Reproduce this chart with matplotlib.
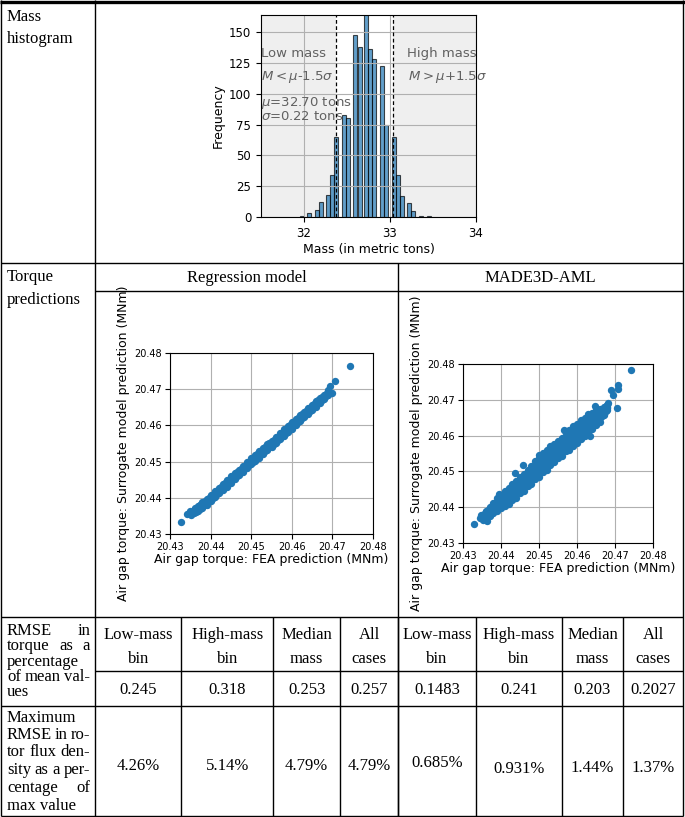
import matplotlib.pyplot as plt

W, H = 685, 817

# mass histogram: left edge of each bar (tons) and its count
mass_left = [31.953, 32.035, 32.128, 32.175, 32.256, 32.302, 32.349, 32.438, 32.488,
             32.574, 32.624, 32.698, 32.748, 32.795, 32.884, 32.934, 33.023, 33.070,
             33.116, 33.194, 33.240, 33.335, 33.430]
mass_count = [1, 3, 6, 12, 18, 34, 65, 83, 80, 148, 138, 168, 136, 128, 123, 75, 65, 34,
              17, 11, 5, 1, 1]
mass_mu = 32.70
mass_sigma = 0.22

# regression model: FEA torque vs surrogate torque (MNm)
reg_x = [20.436, 20.437, 20.438, 20.439, 20.440, 20.441, 20.442, 20.443, 20.444, 20.445,
         20.446, 20.447, 20.448, 20.449, 20.450, 20.451, 20.452, 20.453, 20.454, 20.455,
         20.456, 20.457, 20.458, 20.459, 20.460, 20.461, 20.462, 20.463, 20.464, 20.465,
         20.466, 20.467, 20.468, 20.469]
reg_lo = [20.4357, 20.4364, 20.4373, 20.4381, 20.4391, 20.4401, 20.4412, 20.4421, 20.4431,
          20.4442, 20.4451, 20.4462, 20.4471, 20.4482, 20.4492, 20.4502, 20.4511, 20.4522,
          20.4531, 20.4541, 20.4551, 20.4562, 20.4571, 20.4581, 20.4591, 20.4602, 20.4611,
          20.4622, 20.4632, 20.4642, 20.4652, 20.4663, 20.4673, 20.4684]
reg_mid = [20.4362, 20.4371, 20.4381, 20.4390, 20.4400, 20.4410, 20.4420, 20.4430, 20.4440,
           20.4450, 20.4460, 20.4470, 20.4480, 20.4490, 20.4501, 20.4510, 20.4520, 20.4530,
           20.4540, 20.4550, 20.4560, 20.4570, 20.4580, 20.4590, 20.4600, 20.4610, 20.4620,
           20.4630, 20.4640, 20.4650, 20.4660, 20.4670, 20.4679, 20.4689]
reg_hi = [20.4367, 20.4378, 20.4388, 20.4398, 20.4408, 20.4419, 20.4428, 20.4439, 20.4448,
          20.4459, 20.4469, 20.4478, 20.4489, 20.4498, 20.4510, 20.4518, 20.4529, 20.4538,
          20.4549, 20.4558, 20.4569, 20.4578, 20.4589, 20.4598, 20.4609, 20.4618, 20.4628,
          20.4638, 20.4648, 20.4657, 20.4667, 20.4676, 20.4685, 20.4694]
# points lying between the columns above
reg_xh = [20.4365, 20.4375, 20.4385, 20.4395, 20.4405, 20.4415, 20.4425, 20.4435, 20.4445,
          20.4455, 20.4465, 20.4475, 20.4485, 20.4495, 20.4505, 20.4515, 20.4525, 20.4535,
          20.4545, 20.4555, 20.4565, 20.4575, 20.4585, 20.4595, 20.4605, 20.4615, 20.4625,
          20.4635, 20.4645, 20.4655, 20.4665, 20.4675, 20.4685]
reg_q1 = [20.4362, 20.4370, 20.4380, 20.4391, 20.4400, 20.4410, 20.4421, 20.4430, 20.4440,
          20.4451, 20.4460, 20.4470, 20.4481, 20.4490, 20.4500, 20.4511, 20.4520, 20.4530,
          20.4541, 20.4550, 20.4560, 20.4571, 20.4580, 20.4590, 20.4601, 20.4610, 20.4620,
          20.4631, 20.4640, 20.4650, 20.4661, 20.4670, 20.4680]
reg_q3 = [20.4370, 20.4381, 20.4391, 20.4400, 20.4409, 20.4420, 20.4431, 20.4440, 20.4449,
          20.4460, 20.4471, 20.4480, 20.4489, 20.4500, 20.4511, 20.4520, 20.4529, 20.4540,
          20.4551, 20.4560, 20.4569, 20.4580, 20.4591, 20.4600, 20.4609, 20.4620, 20.4631,
          20.4640, 20.4649, 20.4660, 20.4669, 20.4678, 20.4687]
reg_ex_x = [20.4327, 20.4343, 20.4349, 20.4352, 20.4361, 20.4374, 20.4382, 20.4689, 20.4693,
            20.4698, 20.4706, 20.4743]
reg_ex_y = [20.4332, 20.4355, 20.4363, 20.4353, 20.4372, 20.4381, 20.4384, 20.4699, 20.4710,
            20.4690, 20.4724, 20.4765]

# MADE3D-AML: same quantities, wider band
made_x = [20.436, 20.437, 20.438, 20.439, 20.440, 20.441, 20.442, 20.443, 20.444, 20.445,
          20.446, 20.447, 20.448, 20.449, 20.450, 20.451, 20.452, 20.453, 20.454, 20.455,
          20.456, 20.457, 20.458, 20.459, 20.460, 20.461, 20.462, 20.463, 20.464, 20.465,
          20.466, 20.467, 20.468]
made_y1 = [20.4371, 20.4375, 20.4384, 20.4388, 20.4398, 20.4404, 20.4410, 20.4421, 20.4427,
           20.4440, 20.4446, 20.4459, 20.4465, 20.4478, 20.4484, 20.4497, 20.4503, 20.4518,
           20.4525, 20.4538, 20.4543, 20.4556, 20.4560, 20.4572, 20.4578, 20.4591, 20.4598,
           20.4611, 20.4618, 20.4631, 20.4639, 20.4657, 20.4672]
made_y2 = [20.4376, 20.4381, 20.4391, 20.4397, 20.4407, 20.4413, 20.4423, 20.4430, 20.4441,
           20.4449, 20.4460, 20.4468, 20.4480, 20.4488, 20.4500, 20.4508, 20.4520, 20.4529,
           20.4540, 20.4548, 20.4558, 20.4566, 20.4576, 20.4583, 20.4594, 20.4602, 20.4613,
           20.4621, 20.4632, 20.4639, 20.4650, 20.4661, 20.4677]
made_y3 = [20.4380, 20.4388, 20.4398, 20.4407, 20.4416, 20.4424, 20.4433, 20.4442, 20.4451,
           20.4461, 20.4471, 20.4481, 20.4491, 20.4502, 20.4512, 20.4523, 20.4533, 20.4543,
           20.4552, 20.4561, 20.4570, 20.4580, 20.4589, 20.4598, 20.4607, 20.4616, 20.4625,
           20.4634, 20.4642, 20.4650, 20.4658, 20.4668, 20.4680]
made_y4 = [20.4386, 20.4393, 20.4407, 20.4415, 20.4427, 20.4433, 20.4445, 20.4452, 20.4463,
           20.4471, 20.4483, 20.4491, 20.4504, 20.4513, 20.4526, 20.4535, 20.4548, 20.4555,
           20.4565, 20.4572, 20.4583, 20.4592, 20.4603, 20.4611, 20.4621, 20.4628, 20.4638,
           20.4645, 20.4654, 20.4659, 20.4668, 20.4673, 20.4685]
made_y5 = [20.4389, 20.4401, 20.4412, 20.4425, 20.4434, 20.4446, 20.4453, 20.4465, 20.4472,
           20.4484, 20.4493, 20.4505, 20.4514, 20.4528, 20.4537, 20.4551, 20.4560, 20.4570,
           20.4576, 20.4586, 20.4594, 20.4607, 20.4615, 20.4627, 20.4633, 20.4643, 20.4649,
           20.4659, 20.4663, 20.4671, 20.4675, 20.4681, 20.4686]
# points lying between the columns above
made_xh = [20.4365, 20.4375, 20.4385, 20.4395, 20.4405, 20.4415, 20.4425, 20.4435, 20.4445,
           20.4455, 20.4465, 20.4475, 20.4485, 20.4495, 20.4505, 20.4515, 20.4525, 20.4535,
           20.4545, 20.4555, 20.4565, 20.4575, 20.4585, 20.4595, 20.4605, 20.4615, 20.4625,
           20.4635, 20.4645, 20.4655, 20.4665, 20.4675]
made_h1 = [20.4377, 20.4385, 20.4392, 20.4400, 20.4408, 20.4415, 20.4424, 20.4433, 20.4443,
           20.4452, 20.4462, 20.4472, 20.4481, 20.4492, 20.4502, 20.4511, 20.4522, 20.4532,
           20.4541, 20.4550, 20.4560, 20.4568, 20.4576, 20.4585, 20.4595, 20.4605, 20.4614,
           20.4624, 20.4633, 20.4643, 20.4654, 20.4668]
made_h2 = [20.4384, 20.4393, 20.4402, 20.4411, 20.4420, 20.4428, 20.4437, 20.4446, 20.4456,
           20.4466, 20.4476, 20.4486, 20.4496, 20.4507, 20.4518, 20.4528, 20.4538, 20.4547,
           20.4556, 20.4565, 20.4575, 20.4584, 20.4593, 20.4602, 20.4611, 20.4620, 20.4629,
           20.4638, 20.4646, 20.4654, 20.4663, 20.4674]
made_h3 = [20.4391, 20.4401, 20.4412, 20.4422, 20.4432, 20.4441, 20.4450, 20.4459, 20.4469,
           20.4480, 20.4490, 20.4500, 20.4511, 20.4522, 20.4534, 20.4545, 20.4554, 20.4562,
           20.4571, 20.4580, 20.4590, 20.4600, 20.4610, 20.4619, 20.4627, 20.4635, 20.4644,
           20.4652, 20.4659, 20.4665, 20.4672, 20.4680]
made_ex_x = [20.4328, 20.4344, 20.4348, 20.4353, 20.4357, 20.4363, 20.4396, 20.4436, 20.4458,
             20.4500, 20.4565, 20.4633, 20.4647, 20.4682, 20.4690, 20.4695, 20.4704, 20.4708,
             20.4708, 20.4743]
made_ex_y = [20.4354, 20.4370, 20.4379, 20.4365, 20.4384, 20.4361, 20.4437, 20.4496, 20.4517,
             20.4547, 20.4615, 20.4598, 20.4682, 20.4691, 20.4726, 20.4714, 20.4677, 20.4742,
             20.4730, 20.4782]

torque_ticks = [20.43, 20.44, 20.45, 20.46, 20.47, 20.48]

# table contents
model_names = ['Regression model', 'MADE3D-AML']
bin_headers = [('Low-mass', 'bin'), ('High-mass', 'bin'), ('Median', 'mass'), ('All', 'cases')]
rmse_torque = ['0.245', '0.318', '0.253', '0.257', '0.1483', '0.241', '0.203', '0.2027']
rmse_flux = ['4.26%', '5.14%', '4.79%', '4.79%', '0.685%', '0.931%', '1.44%', '1.37%']

fig = plt.figure(figsize=(W / 100, H / 100), dpi=100)
bg = fig.add_axes([0, 0, 1, 1])
bg.set_xlim(0, W)
bg.set_ylim(H, 0)
bg.axis('off')

serif = dict(family='Liberation Serif', fontsize=12, color='black')


def hline(y, x0, x1, lw=1.0):
    bg.plot([x0, x1], [y, y], color='black', lw=lw, solid_capstyle='butt')


def vline(x, y0, y1, lw=1.0):
    bg.plot([x, x], [y0, y1], color='black', lw=lw, solid_capstyle='butt')


# grid of the table
col1 = 95.5
right = 683.5
cols = [95.5, 181.5, 273, 340.5, 398, 476, 562, 623, 683.5]
hline(1.5, 0, W, lw=2.4)
hline(263, 1.5, right)
hline(291, col1, right)
hline(617, 1.5, right)
hline(671, col1, right)
hline(706, 1.5, right)
hline(815.5, 1.5, right)
vline(1.5, 0, 816)
vline(right, 0, 816)
vline(col1, 0, 816)
vline(398, 263, 816)
for cx in cols[1:-1]:
    vline(cx, 617, 816)

# first column labels
bg.text(7, 17, 'Mass', va='center', **serif)
bg.text(7, 39, 'histogram', va='center', **serif)
bg.text(7, 277, 'Torque', va='center', **serif)
bg.text(7, 300, 'predictions', va='center', **serif)

renderer = fig.canvas.get_renderer()


def cell_lines(lines, ys, x0=7, x1=90):
    for (txt, just), y in zip(lines, ys):
        words = txt.split()
        if not just or len(words) == 1:
            bg.text(x0, y, txt, ha='left', va='center', **serif)
            continue
        objs = [bg.text(0, y, w, ha='left', va='center', **serif) for w in words]
        widths = [o.get_window_extent(renderer).width for o in objs]
        gap = (x1 - x0 - sum(widths)) / (len(words) - 1)
        x = x0
        for o, w in zip(objs, widths):
            o.set_x(x)
            x += w + gap


cell_lines([('RMSE in', True), ('torque as a', True), ('percentage', False),
            ('of mean val-', True), ('ues', False)],
           [631, 646, 662, 677, 692])
cell_lines([('Maximum', False), ('RMSE in ro-', True), ('tor flux den-', True),
            ('sity as a per-', True), ('centage of', True), ('max value', False)],
           [718, 735, 752, 770, 788, 806])

bg.text((col1 + 398) / 2, 278, model_names[0], ha='center', va='center', **serif)
bg.text((398 + right) / 2, 278, model_names[1], ha='center', va='center', **serif)

flux_y = [766, 766, 766, 766, 763, 769, 768, 768]
for i in range(8):
    cx = (cols[i] + cols[i + 1]) / 2
    top, bot = bin_headers[i % 4]
    bg.text(cx, 635, top, ha='center', va='center', **serif)
    bg.text(cx, 659, bot, ha='center', va='center', **serif)
    bg.text(cx, 690, rmse_torque[i], ha='center', va='center', **serif)
    bg.text(cx, flux_y[i], rmse_flux[i], ha='center', va='center', **serif)


def px_axes(x0, y0, x1, y1):
    return fig.add_axes([x0 / W, 1 - y1 / H, (x1 - x0) / W, (y1 - y0) / H])


# mass histogram
ax = px_axes(261, 15, 476, 217)
lo = mass_mu - 1.5 * mass_sigma
hi = mass_mu + 1.5 * mass_sigma
ax.axvspan(31.5, lo, color='#efefef', zorder=0, lw=0)
ax.axvspan(hi, 34, color='#efefef', zorder=0, lw=0)
ax.bar(mass_left, mass_count, width=0.047, align='edge', color='#1f77b4', alpha=0.7,
       edgecolor='black', linewidth=0.8)
ax.axvline(lo, color='black', ls='--', lw=0.9, dashes=(3, 2))
ax.axvline(hi, color='black', ls='--', lw=0.9, dashes=(3, 2))
ax.set_xlim(31.5, 34)
ax.set_ylim(0, 164)
ax.set_xticks([32, 33, 34])
ax.set_yticks([0, 25, 50, 75, 100, 125, 150])
ax.grid(True, color='#b0b0b0', lw=0.8)
ax.tick_params(labelsize=8.5)
ax.set_xlabel('Mass (in metric tons)', fontsize=9, labelpad=2)
ax.set_ylabel('Frequency', fontsize=9, labelpad=3)
tc = dict(fontsize=9.5, color='0.38', zorder=5)
ax.text(31.505, 133, 'Low mass', va='center', **tc)
ax.text(31.505, 114, r'$M<\mu$-1.5$\sigma$', va='center', **tc)
ax.text(31.505, 88, '$\\mu$=32.70 tons\n$\\sigma$=0.22 tons', va='center',
        linespacing=0.9, **tc)
ax.text(33.2, 133, 'High mass', va='center', **tc)
ax.text(33.21, 114, r'$M>\mu$+1.5$\sigma$', va='center', **tc)

# torque scatter plots
panels = [
    ((170, 353, 373, 534),
     [(reg_x, reg_lo), (reg_x, reg_mid), (reg_x, reg_hi), (reg_xh, reg_q1), (reg_xh, reg_q3),
      (reg_ex_x, reg_ex_y)]),
    ((463, 364, 653, 543),
     [(made_x, made_y1), (made_x, made_y2), (made_x, made_y3), (made_x, made_y4),
      (made_x, made_y5), (made_xh, made_h1), (made_xh, made_h2), (made_xh, made_h3),
      (made_ex_x, made_ex_y)]),
]
for rect, series in panels:
    ax = px_axes(*rect)
    for xs, ys in series:
        ax.scatter(xs, ys, s=28, color='#1f77b4', linewidths=0, zorder=3)
    ax.set_xlim(20.43, 20.48)
    ax.set_ylim(20.43, 20.48)
    ax.set_xticks(torque_ticks)
    ax.set_yticks(torque_ticks)
    ax.set_xticklabels([f'{t:.2f}' for t in torque_ticks])
    ax.set_yticklabels([f'{t:.2f}' for t in torque_ticks])
    ax.grid(True, color='#b0b0b0', lw=0.8)
    ax.tick_params(labelsize=7, pad=2)
    ax.set_xlabel('Air gap torque: FEA prediction (MNm)', fontsize=9, labelpad=1)
    ax.set_ylabel('Air gap torque: Surrogate model prediction (MNm)', fontsize=9, labelpad=3)

fig.savefig('out.png', dpi=100)
